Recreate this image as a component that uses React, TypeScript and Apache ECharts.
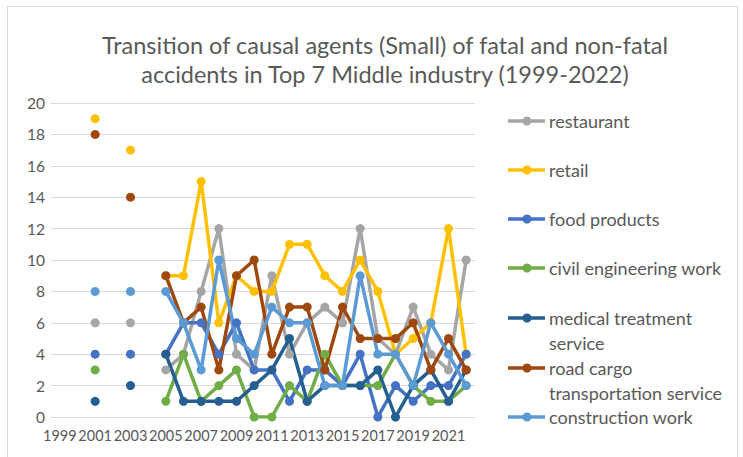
import React, { useEffect, useRef } from "react";
import * as echarts from "echarts";

const years = [
  "1999","2000","2001","2002","2003","2004","2005","2006","2007","2008","2009","2010",
  "2011","2012","2013","2014","2015","2016","2017","2018","2019","2020","2021","2022",
];
const restaurant = [null,null,6,null,6,null,3,4,8,12,4,3,9,4,6,7,6,12,5,4,7,4,3,10];
const retail = [null,null,19,null,17,null,9,9,15,6,9,8,8,11,11,9,8,10,8,4,5,6,12,4];
const foodProducts = [null,null,4,null,4,null,4,6,6,4,6,3,3,1,3,3,2,4,0,2,1,2,2,4];
const civilEngineering = [null,null,3,null,null,null,1,4,1,2,3,0,0,2,1,4,2,2,2,4,2,1,1,2];
const medicalTreatment = [null,null,1,null,2,null,4,1,1,1,1,2,3,5,1,2,2,2,3,0,2,3,1,3];
const roadCargo = [null,null,18,null,14,null,9,6,7,3,9,10,4,7,7,3,7,5,5,5,6,3,5,3];
const constructionWork = [null,null,8,null,8,null,8,6,3,10,5,4,7,6,6,2,2,9,4,4,2,6,4,2];
const yTicks = [0, 20, 2];

const seriesDefs = [
  { name: "restaurant", label: ["restaurant"], data: restaurant, color: "#A5A5A5" },
  { name: "retail", label: ["retail"], data: retail, color: "#FFC000" },
  { name: "food products", label: ["food products"], data: foodProducts, color: "#4472C4" },
  { name: "civil engineering work", label: ["civil engineering work"], data: civilEngineering, color: "#70AD47" },
  { name: "medical treatment service", label: ["medical treatment", "service"], data: medicalTreatment, color: "#255E91" },
  { name: "road cargo transportation service", label: ["road cargo", "transportation service"], data: roadCargo, color: "#9E480E" },
  { name: "construction work", label: ["construction work"], data: constructionWork, color: "#5B9BD5" },
];
const legendY = [121, 170, 219, 268, 318, 368, 417];

const FONT = "Lato, 'Liberation Sans', sans-serif";

export default function App() {
  const ref = useRef<HTMLDivElement>(null);
  useEffect(() => {
    if (!ref.current) return;
    const chart = echarts.init(ref.current, null, { renderer: "svg" });
    const graphics: any[] = [
      {
        type: "rect",
        shape: { x: 7.5, y: 6.5, width: 730, height: 470 },
        style: { fill: "none", stroke: "#d9d9d9", lineWidth: 1 },
        silent: true,
      },
    ];
    seriesDefs.forEach((s, i) => {
      const y = legendY[i];
      graphics.push({
        type: "line",
        shape: { x1: 508, y1: y, x2: 545, y2: y },
        style: { stroke: s.color, lineWidth: 3.5 },
      });
      graphics.push({
        type: "circle",
        shape: { cx: 527, cy: y, r: 4.5 },
        style: { fill: s.color },
      });
      s.label.forEach((t, j) => {
        graphics.push({
          type: "text",
          x: 549,
          y: y + j * 25,
          style: {
            text: t,
            fill: "#595959",
            font: `18px ${FONT}`,
            verticalAlign: "middle",
          },
        });
      });
    });
    chart.setOption({
      animation: false,
      backgroundColor: "#ffffff",
      title: {
        text: "Transition of causal agents (Small) of fatal and non-fatal\naccidents in Top 7 Middle industry (1999-2022)",
        left: 380,
        textAlign: "center",
        top: 25,
        textStyle: {
          fontFamily: FONT,
          fontSize: 23.5,
          fontWeight: "normal",
          color: "#595959",
          lineHeight: 29,
        },
      },
      grid: { left: 51, right: 268, top: 103, bottom: 40, containLabel: false },
      xAxis: {
        type: "category",
        data: years,
        boundaryGap: true,
        axisLine: { show: true, lineStyle: { color: "#d9d9d9", width: 1 } },
        axisTick: { show: false },
        axisLabel: {
          interval: 1,
          showMinLabel: true,
          hideOverlap: false,
          color: "#595959",
          fontFamily: FONT,
          fontSize: 14.5,
          margin: 11,
        },
      },
      yAxis: {
        type: "value",
        min: yTicks[0],
        max: yTicks[1],
        interval: yTicks[2],
        axisLine: { show: false },
        axisTick: { show: false },
        splitLine: { lineStyle: { color: "#d9d9d9", width: 1 } },
        axisLabel: {
          color: "#595959",
          fontFamily: FONT,
          fontSize: 15.5,
          margin: 6,
        },
      },
      series: seriesDefs.map((s) => ({
        name: s.name,
        type: "line",
        data: s.data,
        connectNulls: false,
        symbol: "circle",
        symbolSize: 9,
        showAllSymbol: true,
        lineStyle: { color: s.color, width: 3.5 },
        itemStyle: { color: s.color },
        emphasis: { disabled: true },
      })),
      graphic: graphics,
    });
    return () => chart.dispose();
  }, []);
  return (
    <div
      ref={ref}
      style={{ position: "fixed", left: 0, top: 0, width: 743, height: 457 }}
    />
  );
}
